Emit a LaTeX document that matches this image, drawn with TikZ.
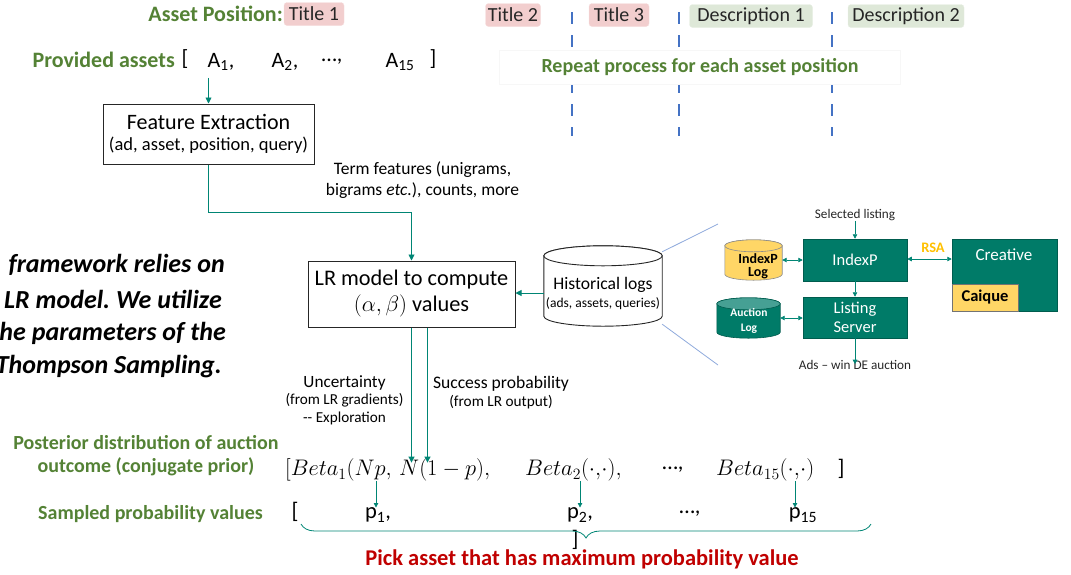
\RequirePackage{fix-cm}
\documentclass[tikz,border=0pt]{standalone}
\usepackage[no-math]{fontspec}
\setmainfont{Carlito}
\usetikzlibrary{arrows.meta,calc,decorations.pathreplacing}
\frenchspacing

\definecolor{lblgreen}{RGB}{84,130,53}
\definecolor{linkteal}{RGB}{0,133,116}
\definecolor{boxteal}{RGB}{0,123,104}
\definecolor{boxtealtop}{RGB}{70,160,148}
\definecolor{tagpink}{RGB}{242,206,206}
\definecolor{tagmint}{RGB}{222,232,216}
\definecolor{dashblue}{RGB}{68,114,196}
\definecolor{zoomblue}{RGB}{143,170,220}
\definecolor{capyellow}{RGB}{255,214,102}
\definecolor{rsaorange}{RGB}{255,192,0}
\definecolor{pickred}{RGB}{192,0,0}

\newcommand\fsz[2]{\fontsize{#1}{#2}\selectfont}

\pgfdeclarelayer{back}
\pgfsetlayers{back,main}

% drum (database) outline behind a node: #1 node, #2 cap radius, #3 body style, #4 cap style
\newcommand\drumshape[4]{%
  \begin{pgfonlayer}{back}
  \path[#3] let \p1=(#1.north west), \p2=(#1.south east) in
    (\x1,\y1-#2) -- (\x1,\y2+#2)
    arc[start angle=180, end angle=360, x radius={(\x2-\x1)/2}, y radius=#2]
    -- (\x2,\y1-#2)
    arc[start angle=0, end angle=180, x radius={(\x2-\x1)/2}, y radius=#2] -- cycle;
  \path[#4] let \p1=(#1.north west), \p2=(#1.south east) in
    ({(\x1+\x2)/2},\y1-#2) ellipse[x radius={(\x2-\x1)/2}, y radius=#2];
  \end{pgfonlayer}}

\tikzset{
  arr/.style={draw=linkteal, line width=0.9pt, -{Triangle[length=6pt,width=6pt]}},
  smallarr/.style={draw=linkteal, line width=0.8pt, -{Triangle[length=4.5pt,width=4.5pt]}},
  twoway/.style={draw=linkteal, line width=0.8pt,
    {Triangle[length=4.5pt,width=4.5pt]}-{Triangle[length=4.5pt,width=4.5pt]}},
  greenlbl/.style={font=\fsz{22}{26}\bfseries, text=lblgreen, inner sep=0pt},
  greensmall/.style={font=\fsz{20}{23}\bfseries, text=lblgreen, inner sep=0pt, align=center},
  tag/.style={rounded corners=3pt, inner sep=0pt, minimum height=23pt,
    font=\fsz{20}{22}, text=black!85},
  pinktag/.style={tag, fill=tagpink, draw=tagpink!70!white},
  minttag/.style={tag, fill=tagmint, draw=tagmint!70!white},
  dashline/.style={draw=dashblue, line width=2.8pt, dash pattern=on 12pt off 11pt},
  asset/.style={font=\fsz{22}{26}, inner sep=0pt},
  procbox/.style={draw=black!85, line width=1pt, align=center, inner sep=0pt},
  tealbox/.style={fill=boxteal, draw=boxteal!75!black, line width=0.5pt, text=white,
    font=\fsz{16.5}{19}, align=center, inner sep=0pt},
  tiny/.style={font=\fsz{13.2}{15}, inner sep=0pt, text=black!85},
  noteit/.style={font=\fsz{26}{30}\bfseries\itshape, inner sep=0pt},
  mathrow/.style={font=\fsz{22.5}{26}, inner sep=0pt},
}

\begin{document}
\begin{tikzpicture}[x=1pt, y=-1pt]
\useasboundingbox (0,0) rectangle (1071,574);

% ---- asset positions along the top ----
\node[greenlbl, anchor=east] (assetpos) at (283,14) {Asset Position:};
\node[pinktag, minimum width=60pt] (t1) at (314,14) {Title 1};
\node[pinktag, minimum width=55pt] (t2) at (513,15) {Title 2};
\node[pinktag, minimum width=60pt] (t3) at (619,15) {Title 3};
\node[minttag, minimum width=123pt] (d1) at (751,16) {Description 1};
\node[minttag, minimum width=116pt] (d2) at (906,16) {Description 2};

\draw[dashline] (572,12) -- (572,136);
\draw[dashline] (679,12) -- (679,136);
\draw[dashline] (832,12) -- (832,136);
\node[fill=white, draw=black!3, minimum width=401pt, minimum height=34pt,
      font=\fsz{20}{22}\bfseries, text=lblgreen] (repeat) at (700,67)
      {Repeat process for each asset position};

% ---- provided assets ----
\node[greenlbl, anchor=east] (prov) at (175,60) {Provided assets};
\node[asset] (lbr) at (185,59) {[};
\node[asset] (a1) at (221,62) {A\textsubscript{1},};
\node[asset] (a2) at (285,62) {A\textsubscript{2},};
\node[asset] (adots) at (332,62) {\dots,};
\node[asset] (a15) at (400,62) {A\textsubscript{15}};
\node[asset] (rbr) at (433,59) {]};

% ---- feature extraction and LR model ----
\node[procbox, minimum width=211pt, minimum height=60pt, font=\fsz{22}{21}] (fe) at (208.5,134)
  {Feature Extraction\\{\fsz{18.5}{21}(ad, asset, position, query)}};
\draw[arr] ([yshift=-7pt]fe.north |- a1.south) -- (fe.north);

\node[font=\fsz{17.5}{21}, inner sep=0pt, align=center] (terms) at (422.5,180)
  {Term features (unigrams,\\bigrams \textit{etc.}), counts, more};

\node[procbox, minimum width=207pt, minimum height=66pt, font=\fsz{22.3}{26}] (lr) at (411.5,294)
  {LR model to compute\\$(\alpha,\beta)$ values};
\draw[arr] (fe.south) -- ++(0,48) -| (lr.north);

% ---- historical logs ----
\node[minimum width=118pt, minimum height=80pt, inner sep=0pt] (hist) at (603,286) {};
\drumshape{hist}{10pt}{fill=white, draw=black!85, line width=0.9pt}{fill=white, draw=black!85, line width=0.9pt}
\node[align=center, inner sep=0pt, font=\fsz{17.6}{18}] (histtxt) at (603,293)
  {Historical logs\\{\fsz{13.5}{16}(ads, assets, queries)}};
\draw[arr] ([yshift=-7pt]hist.west) -- ([yshift=-7pt]hist.west -| lr.east);

% zoom-out guides
\coordinate (zu) at (718,224);
\coordinate (zd) at (718,365);
\draw[zoomblue, line width=0.8pt] ([yshift=-6pt]hist.north east) -- (zu);
\draw[zoomblue, line width=0.8pt] ([yshift=2pt]hist.south east) -- (zd);

% ---- serving system ----
\node[tiny] (sel) at (855,215) {Selected listing};
\node[tealbox, minimum width=104pt, minimum height=42pt] (indexp) at (855,260) {IndexP};
\node[tealbox, minimum width=104pt, minimum height=41pt] (ls) at (855,317.5)
  {Listing\\Server};
\node[fill=boxteal, draw=boxteal!75!black, line width=0.5pt, minimum width=105pt,
      minimum height=72pt, inner sep=0pt] (creative) at (1004.5,275) {};
\node[text=white, font=\fsz{17}{19}, inner sep=0pt] (creativetxt) at (1004,255) {Creative};
\node[fill=capyellow, draw=black!55, line width=0.4pt, minimum width=66pt,
      minimum height=27pt, inner sep=0pt, font=\fsz{16.5}{18}\bfseries] (caique) at (985,297.5) {Caique};
\node[font=\fsz{14.5}{16}\bfseries, text=rsaorange, inner sep=0pt] (rsa) at (933,248) {RSA};

\node[minimum width=57pt, minimum height=40pt, inner sep=0pt] (ipl) at (753.5,260) {};
\drumshape{ipl}{6pt}{fill=capyellow, draw=black!45, line width=0.6pt}{fill=capyellow, draw=black!45, line width=0.6pt}
\node[align=center, font=\fsz{14}{13}\bfseries, inner sep=0pt] (ipltxt) at (758,266) {IndexP\\Log};

\node[minimum width=63pt, minimum height=40pt, inner sep=0pt] (al) at (748.5,318) {};
\drumshape{al}{6pt}{fill=boxteal, draw=boxteal!75!black, line width=0.6pt}{fill=boxtealtop, draw=boxteal!75!black, line width=0.6pt}
\node[align=center, font=\fsz{11.5}{14.5}\bfseries, text=white, inner sep=0pt] (altxt) at (749,321) {Auction\\Log};

\node[tiny] (ads) at (855,365) {Ads -- win DE auction};

\draw[smallarr] (sel.south) -- (indexp.north);
\draw[smallarr] (indexp.south) -- (ls.north);
\draw[smallarr] (ls.south) -- ([yshift=-4pt]ads.north);
\draw[twoway] (ipl.east) -- (indexp.west);
\draw[twoway] ([yshift=1pt]indexp.east) -- ([yshift=1pt]indexp.east -| creative.west);
\draw[twoway] (al.east) -- (al.east -| ls.west);

% ---- side remark ----
\begin{scope}
\clip (0,0) rectangle (1071,574);
\node[noteit, anchor=east] (rem1) at (225,265) {framework relies on};
\node[noteit, anchor=east] (rem2) at (222,299) {LR model. We utilize};
\node[noteit, anchor=east] (rem3) at (226,333) {the parameters of the};
\node[noteit, anchor=east] (rem4) at (222,367) {Thompson Sampling.};
\end{scope}

% ---- exploration / exploitation signals ----
\node[align=center, inner sep=0pt, font=\fsz{15.2}{17.5}] (unc) at (344.5,400)
  {{\fsz{17.2}{19}Uncertainty}\\(from LR gradients)\\{-}{-} Exploration};
\node[align=center, inner sep=0pt, font=\fsz{15.3}{18.5}] (succ) at (501,392.5)
  {{\fsz{17.6}{19}Success probability}\\(from LR output)};

% ---- posterior and samples ----
\node[greensmall] (post) at (146,456) {Posterior distribution of auction\\outcome (conjugate prior)};
\node[greensmall] (samp) at (150.5,514) {Sampled probability values};

\node[mathrow, anchor=west] (beta1) at (285,470) {$[Beta_1(Np,\,N(1-p),$};
\node[mathrow, anchor=west] (beta2) at (525,470) {$Beta_2(\cdot{,}\cdot),$};
\node[mathrow] (bdots) at (673,470) {\dots,};
\node[mathrow, anchor=west] (beta15) at (716,470) {$Beta_{15}(\cdot{,}\cdot)$};
\node[mathrow] (brb) at (841,469) {]};

\draw[arr] (lr.south) -- ([yshift=-4pt]lr.south |- beta1.north);
\draw[arr] ([xshift=16pt]lr.south) -- ([xshift=16pt,yshift=-4pt]lr.south |- beta1.north);

\node[mathrow] (plb) at (295,512) {[};
\node[mathrow] (p1) at (378,515) {p\textsubscript{1},};
\node[mathrow] (p2) at (580,515) {p\textsubscript{2},};
\node[mathrow] (pdots) at (690,514) {\dots,};
\node[mathrow] (p15) at (803,515) {p\textsubscript{15}};
\node[mathrow] (prb) at (575,540) {]};

\draw[smallarr] ([xshift=-2pt]p1.north |- beta1.south) -- ([xshift=-2pt]p1.north);
\draw[smallarr] (p2.north |- beta2.south) -- (p2.north);
\draw[smallarr] ([xshift=-8pt]p15.north |- beta15.south) -- ([xshift=-8pt]p15.north);

% selection brace
\coordinate (brl) at (301,524);
\coordinate (brr) at (871,524);
\draw[linkteal, line width=0.8pt, decorate, decoration={brace, mirror, amplitude=14pt}] (brl) -- (brr);

\node[font=\fsz{22.5}{26}\bfseries, text=pickred, inner sep=0pt] (pick) at (582,559)
  {Pick asset that has maximum probability value};

\end{tikzpicture}
\end{document}
